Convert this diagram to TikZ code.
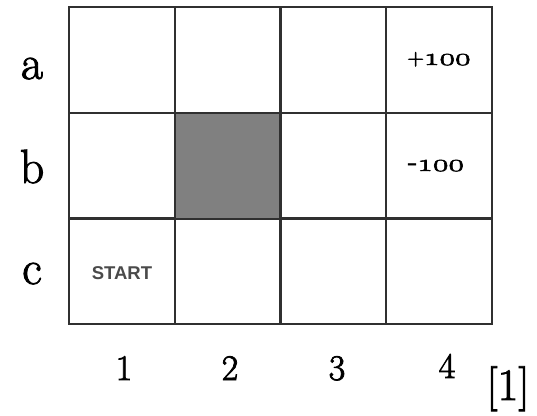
\documentclass[tikz,border=0pt]{standalone}
\usepackage{fontspec}
\newfontfamily\startfont{Liberation Sans}
\definecolor{gridline}{HTML}{303030}
\definecolor{wallgray}{HTML}{808080}
\definecolor{startgray}{HTML}{4A4A4A}
\newcommand{\osnum}[1]{{\usefont{OML}{cmm}{m}{it}#1}}
\newcommand{\heavytext}[2]{\special{pdf:literal direct 2 Tr #1 w}#2\special{pdf:literal direct 0 Tr}}
\begin{document}
\begin{tikzpicture}[x=1pt,y=-1pt,
  cell/.style={draw=gridline, line width=2pt, minimum width=105.75pt, minimum height=105.67pt, inner sep=0pt, outer sep=0pt},
  wall/.style={cell, fill=wallgray},
  rowlab/.style={anchor=base, inner sep=0pt, font=\fontsize{48}{48}\selectfont},
  collab/.style={anchor=base, inner sep=0pt, font=\fontsize{36}{36}\selectfont},
  reward/.style={anchor=base, inner sep=0pt, font=\fontsize{38}{38}\selectfont},
  startlab/.style={anchor=base, inner sep=0pt, text=startgray, font=\startfont\bfseries\fontsize{18.5}{18.5}\selectfont},
  cite/.style={anchor=base, inner sep=0pt, font=\fontsize{45}{45}\selectfont}]
\useasboundingbox (0,0) rectangle (537,415);
% cells
\foreach \r/\ry in {a/60.0,b/165.7,c/271.3}{
  \foreach \c/\cx in {1/121.9,2/227.6,3/333.4,4/439.1}{
    \node[cell] (\r\c) at (\cx,\ry) {};
  }
}
\node[wall] (wallb2) at (b2) {};
% row labels
\node[rowlab] (la) at (32,79) {\heavytext{0.9}{a}};
\node[rowlab] (lb) at (32,183) {\heavytext{0.9}{b}};
\node[rowlab] (lc) at (32,284) {\heavytext{0.9}{c}};
% column labels
\node[collab] (n1) at (124,380) {\heavytext{0.8}{1}};
\node[collab] (n2) at (230,380) {\heavytext{0.8}{2}};
\node[collab] (n3) at (337,380) {\heavytext{0.8}{3}};
\node[collab] (n4) at (447,378) {\heavytext{0.8}{4}};
% rewards
\node[reward] (plus) at (439,65) {\heavytext{0.5}{{\fontsize{23}{23}\selectfont+}\scalebox{1.28}[1]{\osnum{100}}}};
\node[reward] (minus) at (436,171) {\heavytext{0.5}{{\fontsize{31}{31}\selectfont-}\scalebox{1.28}[1]{\osnum{100}}}};
% start
\node[startlab] (start) at (122,279) {START};
% citation
\node[cite] (ref) at (508,400) {\heavytext{0.8}{[1]}};
\end{tikzpicture}
\end{document}
